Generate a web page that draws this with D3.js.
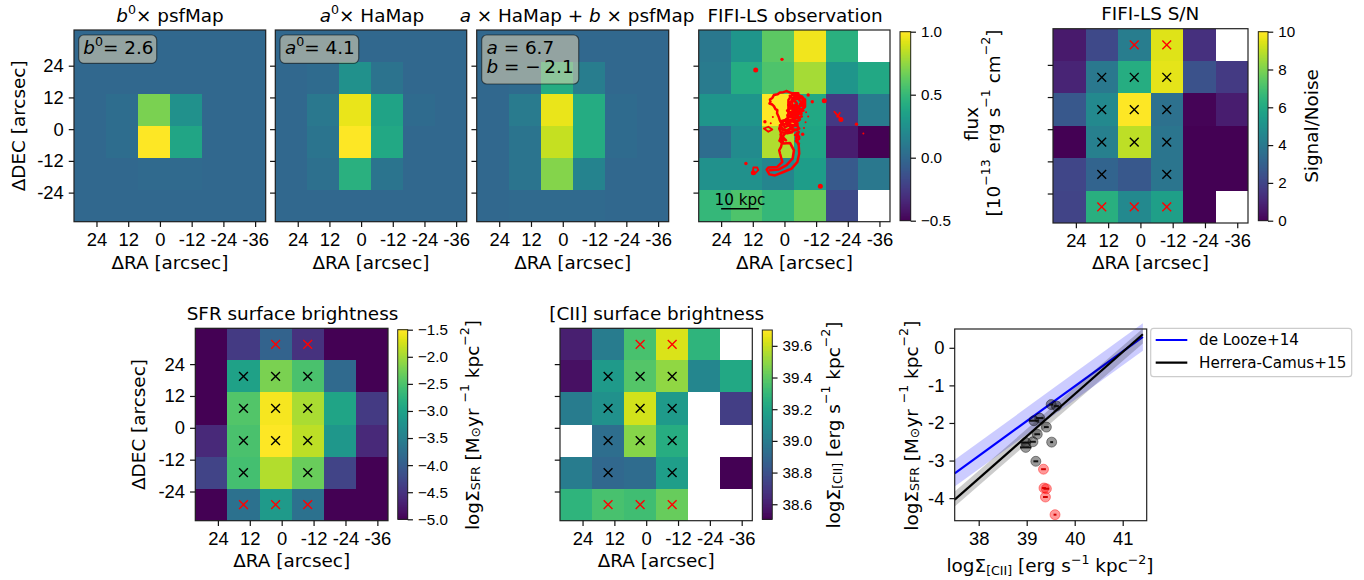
<!doctype html>
<html lang="en">
<head>
<meta charset="utf-8">
<title>FIFI-LS maps</title>
<script src="https://cdnjs.cloudflare.com/ajax/libs/d3/7.8.5/d3.min.js"></script>
<style>
  html, body { margin: 0; padding: 0; background: #fff; }
  svg { display: block; font-family: "DejaVu Sans", sans-serif; }
  .big { font-size: 18.4px; fill: #000; }
  .small { font-size: 15.2px; fill: #000; }
  .axis text { font-size: 18.4px; fill: #000; }
  .cbar text { font-size: 15.2px; fill: #000; }
  .axis line, .cbar line { stroke: #111; stroke-width: 1.2px; }
  .frame { fill: none; stroke: #222; stroke-width: 1.2px; }
</style>
</head>
<body>
<div id="viz"></div>
<script>
// DATA
var raTicks = [24, 12, 0, -12, -24, -36];
var decTicks = [24, 12, 0, -12, -24];
var raLimits = [32.5, -40];
var decLimits = [37.5, -35];

// flux maps, rows from north to south, null = no data
var psfMap = [
  [0, 0, 0, 0, 0, 0],
  [0, 0, 0, 0, 0, 0],
  [0, 0.03, 0.7, 0.25, 0, 0],
  [0, 0.03, 1.0, 0.38, 0, 0],
  [0, 0, 0.01, 0.01, 0, 0],
  [0, 0, 0, 0, 0, 0]
];
var haMap = [
  [0, 0, 0, 0, 0, 0],
  [0, 0.02, 0.25, 0.07, 0, 0],
  [0, 0.1, 0.95, 0.37, 0.02, 0],
  [0, 0.08, 1.0, 0.4, 0, 0],
  [0, 0.05, 0.45, 0.08, 0, 0],
  [0, 0, 0, 0, 0, 0]
];
var modelMap = [
  [0, 0, 0, 0, 0, 0],
  [0, 0.02, 0.42, 0.13, 0, 0],
  [0, 0.12, 0.95, 0.42, 0.02, 0],
  [0, 0.08, 0.87, 0.42, 0.02, 0],
  [0, 0.08, 0.72, 0.17, 0, 0],
  [0, 0.01, 0.01, 0.01, 0, 0]
];
var fluxMap = [
  [0.1, 0.28, 0.62, 0.97, 0.45, null],
  [0.12, 0.42, 0.58, 0.8, 0.28, 0.4],
  [0.28, 0.28, 1.0, 0.4, -0.25, 0.12],
  [0.03, 0.22, 0.82, 0.38, -0.38, -0.5],
  [0.25, 0.25, 0.18, 0.33, -0.08, 0.1],
  [0.5, 0.58, 0.5, 0.65, -0.17, null]
];
var snMap = [
  [0.7, 2.2, 4.2, 9.5, 1.4, null],
  [1.0, 4.0, 6.2, 9.6, 2.5, 1.7],
  [2.7, 4.7, 10, 3.7, 0.1, 0.8],
  [0, 4.3, 9.0, 3.9, 0, 0],
  [2.1, 3.2, 2.7, 3.9, 0, 0],
  [2.0, 6.3, 4.7, 5.6, 0, null]
];
var sfrMap = [
  [-5, -4.4, -3.9, -4.5, -5, -5],
  [-5, -3.0, -2.2, -2.5, -3.8, -5],
  [-5, -2.45, -1.55, -1.95, -2.95, -4.4],
  [-4.6, -2.5, -1.5, -1.85, -3.15, -4.6],
  [-4.3, -2.55, -1.9, -2.3, -4.3, -5],
  [-5, -3.7, -3.1, -3.7, -5, -5]
];
var ciiMap = [
  [38.6, 39.0, 39.35, 39.63, 39.28, null],
  [38.55, 39.15, 39.38, 39.5, 39.05, 39.22],
  [39.0, 39.1, 39.62, 39.15, null, 38.72],
  [null, 38.93, 39.48, 39.25, null, null],
  [39.0, 38.9, 38.92, 39.17, null, 38.5],
  [39.28, 39.35, 39.33, 39.42, null, null]
];

// crosses: row, column, 1 = below the S/N cut
var crossRows = [0, 0, 1, 1, 1, 2, 2, 2, 3, 3, 3, 4, 4, 5, 5, 5];
var crossCols = [2, 3, 1, 2, 3, 1, 2, 3, 1, 2, 3, 1, 3, 1, 2, 3];
var crossFlag = [1, 1, 0, 0, 0, 0, 0, 0, 0, 0, 0, 0, 0, 1, 1, 1];

// Halpha contour over the observation, in arcsec
var contourPaths = [
  [[-0.8,14.4],[0.4,14],[1.7,13.9],[2.6,13.2],[4,12.9],[4.6,11.8],[5.5,11.2],[5.3,10.4],[5.7,9.7],[4.8,9.4],[4,8.7],[3.4,7.6],[2.7,7.2],[2.8,6],[2.2,4.7],[1.8,3.4],[1.1,2.15],[2,0.25],[1.1,-1.9],[1.7,-4.15],[1,-5.4],[1.3,-6.7],[2,-8],[1.7,-9.2],[1.2,-11],[0.8,-12.4],[2.7,-14.3],[6.1,-14.5],[6.75,-15.3],[5.7,-17.1],[3.6,-17.5],[0.4,-16.2],[-2.7,-14.9],[-4.9,-12.4],[-5.6,-9.2],[-5.4,-6.1],[-4.4,-3.5],[-5.4,-1]],
  [[5.5,-15.5],[2.3,-15.3],[-0.8,-13.6],[-3.1,-11.1],[-3.6,-8],[-2.1,-5.2],[0.4,-5.4]],
  [[-0.8,14.4],[-2.7,13.6],[-5.25,13.6]],
  [[-1.5,11],[-2.7,12.9],[-5.25,13.1],[-7.8,11.2],[-7.8,8.5],[-5.9,6.6],[-3.35,7.2],[-1.5,9.1],[-1.5,11]],
  [[-2.7,11],[-5.25,11.6],[-6.5,10],[-5.25,8.2],[-3.1,9.1],[-2.7,11]],
  [[-3.8,12.2],[-6.8,12],[-7,9.2],[-4.2,7.8]],
  [[-2,12.6],[-3.2,11.6],[-4.2,12.8],[-5.4,11.4],[-6.6,12.4],[-7.4,10.6],[-6,9.6],[-7.6,8.4],[-6.2,7.2],[-5,8.8],[-3.8,7.6],[-2.6,8.8],[-1.8,10]],
  [[-2.2,10.4],[-4,10.6],[-4.8,9.6],[-3.4,8.6]],
  [[-6.4,5.6],[-4.2,6],[-7.2,7],[-3,6.8],[-2,4.6],[-5.2,4.2],[-6.6,4.8]],
  [[-1.5,9.1],[-1.5,5.9],[-2.7,6.6],[-4.9,5.3],[-5.9,3.7],[-4,2.15],[-5.6,0.25],[-2.3,-1],[0.4,-0.1],[1.7,1.5],[-1.1,2.15],[-3.35,4.4],[-1.1,5.3],[-2.1,0.9],[-0.2,3.4],[-3.35,0.9],[-1.1,-0.4],[0.7,-2.9],[-0.6,-4.2],[1,-3.4]],
  [[-1.2,7],[-3,5],[-5,6.4],[-3.4,3],[-5,1.2],[-2,1.8],[-0.2,0.6],[0.8,2.6],[-1,4],[-2.4,2.8],[-4.2,4]],
  [[1.5,3],[-1,3.6],[-3.5,2.8],[-5.6,3.4]],
  [[1.7,1.2],[-0.5,2],[-2.5,1],[-5,2]],
  [[1.5,0],[-0.5,-0.6],[-2.5,0.2],[-4.8,-0.4]],
  [[0.9,-1.2],[-1,-1.6],[-3,-1.2]],
  [[0.9,-3],[1.9,-4.4],[0.5,-5],[1.5,-2]],
  [[-4.6,-2.2],[-5.6,-3.6],[-4.3,-4.5],[-5.5,-5.5]],
  [[-2.5,8],[-1,7],[-3,5.8],[-4.8,7.5],[-6.5,6]],
  [[-4.6,-1.6],[-5.6,-3],[-4,-2.2]]
];
var contourLoops = [
  [[-18.9,6.6],[-21.7,3.4]],
  [[-21,6.2],[-20,4.7]],
  [[11.8,-14.5],[10.3,-14.5],[9.9,-15.5],[11.2,-16.8],[12,-16.2],[11.8,-14.5]],
  [[7.8,0.25],[6.1,0.9],[4.6,-0.1],[6.1,-1],[7.8,0.25]]
];
var contourBigDots = [[10.9,22.35],[-15.1,10.75],[-21.4,3.65],[-13.6,-21.6],[11.8,-16.5]];
var contourMidDots = [[0.94,26.4],[-9,12.9],[14.6,-13],[-6.9,-1.9],[7.4,2.8],[-10.55,10.35],[-27.3,1.9]];
var contourTinyDots = [[-29.9,-1.6],[-8.2,6.4],[-9,4.8],[-8,2.6],[-7.4,0.4],[4.4,4.6],[5.2,2.2]];

// SFR vs [CII] per spaxel
var sigmaCii = [39.51, 39.62, 39.15, 39.27, 39.41, 39.22, 39.13, 39.52, 38.98, 38.98, 39.19];
var sigmaSfr = [-1.51, -1.55, -1.94, -1.87, -2.11, -2.30, -2.50, -2.51, -2.52, -2.65, -3.02];
var sigmaCiiErr = [0.04, 0.05, 0.1, 0.08, 0.05, 0.06, 0.06, 0.03, 0.1, 0.12, 0.05];
var lowCii = [39.35, 39.36, 39.41, 39.39, 39.59];
var lowSfr = [-3.23, -3.73, -3.75, -3.97, -4.44];
var lowCiiErr = [0.05, 0.04, 0.06, 0.05, 0.03];

// published relations
var relationX = [37.5, 41.42];
var loozeMid = [-3.34, 0.29];
var loozeLow = [-3.69, -0.08];
var loozeHigh = [-2.98, 0.65];
var herreraMid = [-4.04, 0.36];
var herreraLow = [-4.22, 0.115];
var herreraHigh = [-3.82, 0.51];

var fluxTicks = [-0.5, 0, 0.5, 1];
var snTicks = [0, 2, 4, 6, 8, 10];
var sfrTicks = [-5, -4.5, -4, -3.5, -3, -2.5, -2, -1.5];
var ciiTicks = [38.6, 38.8, 39, 39.2, 39.4, 39.6];

// DRAWING AREA
var svg = d3.select("#viz").append("svg")
  .attr("width", 1364)
  .attr("height", 580);

var minus = "\u2212";

// parts: plain strings, or {t, i: italic, sup, sub}
function richText(sel, parts, size) {
  var offset = 0;
  parts.forEach(function(p) {
    if (typeof p === "string") p = { t: p };
    var shift = p.sup ? -0.42 * size : p.sub ? 0.2 * size : 0;
    var span = sel.append("tspan")
      .attr("dy", shift - offset)
      .text(p.t);
    if (p.i) span.style("font-style", "italic");
    if (p.sup || p.sub) span.style("font-size", (size * 0.7) + "px");
    offset = shift;
  });
  return sel;
}

function label(x, y, parts, size, rotate, anchor) {
  var t = svg.append("text")
    .attr("class", size === 18 ? "big" : "small")
    .attr("text-anchor", anchor || "middle")
    .attr("transform", "translate(" + x + "," + y + ")" + (rotate ? " rotate(-90)" : ""));
  richText(t, parts, size);
  return t;
}

function noteBox(x0, y0, x1, y1) {
  svg.append("rect")
    .attr("x", x0).attr("y", y0)
    .attr("width", x1 - x0).attr("height", y1 - y0)
    .attr("rx", 5).attr("ry", 5)
    .attr("fill", "wheat").attr("fill-opacity", 0.5)
    .attr("stroke", "#000").attr("stroke-opacity", 0.5).attr("stroke-width", 1.2);
}

function heatPanel(o) {
  var x = d3.scaleLinear().domain(raLimits).range([o.x0, o.x1]);
  var y = d3.scaleLinear().domain(decLimits).range([o.y0, o.y1]);
  var color = d3.scaleSequential(d3.interpolateViridis).domain(o.domain);
  var cols = d3.scaleLinear().domain([0, 6]).range(raLimits);
  var rows = d3.scaleLinear().domain([0, 6]).range(decLimits);

  var cells = [];
  o.values.forEach(function(row, r) {
    row.forEach(function(v, c) {
      if (v !== null) cells.push({ r: r, c: c, v: v });
    });
  });

  var g = svg.append("g").attr("shape-rendering", "crispEdges");
  g.selectAll("rect")
    .data(cells)
    .enter()
    .append("rect")
    .attr("x", function(d) { return Math.round(x(cols(d.c))); })
    .attr("y", function(d) { return Math.round(y(rows(d.r))); })
    .attr("width", function(d) { return Math.round(x(cols(d.c + 1))) - Math.round(x(cols(d.c))); })
    .attr("height", function(d) { return Math.round(y(rows(d.r + 1))) - Math.round(y(rows(d.r))); })
    .attr("fill", function(d) { return color(d.v); });

  if (o.crosses) {
    var crossSize = 4.4;
    var crossData = crossRows.map(function(r, i) {
      return { x: x(cols(crossCols[i] + 0.5)), y: y(rows(r + 0.5)), red: crossFlag[i] };
    });
    svg.append("g").selectAll("path")
      .data(crossData)
      .enter()
      .append("path")
      .attr("d", function(d) {
        return "M" + (d.x - crossSize) + "," + (d.y - crossSize) + "L" + (d.x + crossSize) + "," + (d.y + crossSize)
          + "M" + (d.x - crossSize) + "," + (d.y + crossSize) + "L" + (d.x + crossSize) + "," + (d.y - crossSize);
      })
      .attr("fill", "none")
      .attr("stroke", function(d) { return d.red ? "#f00" : "#000"; })
      .attr("stroke-width", 1.4);
  }

  svg.append("rect").attr("class", "frame")
    .attr("x", o.x0).attr("y", o.y0)
    .attr("width", o.x1 - o.x0).attr("height", o.y1 - o.y0);

  var xAxis = d3.axisBottom(x).tickValues(raTicks).tickFormat(String)
    .tickSizeInner(5.25).tickSizeOuter(0).tickPadding(6);
  var xg = svg.append("g").attr("class", "axis")
    .attr("transform", "translate(0," + o.y1 + ")").call(xAxis);
  xg.select(".domain").remove();

  var yAxis = d3.axisLeft(y).tickValues(decTicks)
    .tickFormat(o.yLabels ? String : "")
    .tickSizeInner(5.25).tickSizeOuter(0).tickPadding(5);
  var yg = svg.append("g").attr("class", "axis")
    .attr("transform", "translate(" + o.x0 + ",0)").call(yAxis);
  yg.select(".domain").remove();

  label((o.x0 + o.x1) / 2, o.xLabelY, ["\u0394RA [arcsec]"], 18);
  if (o.yLabels) label(o.yLabelX, (o.y0 + o.y1) / 2, ["\u0394DEC [arcsec]"], 18, true);
  return { x: x, y: y };
}

function colorBar(o) {
  var s = d3.scaleLinear().domain(o.domain).range([o.y1, o.y0]);
  var color = d3.scaleSequential(d3.interpolateViridis).domain(o.domain);
  var steps = d3.range(256).map(function(i) {
    return o.domain[0] + (o.domain[1] - o.domain[0]) * i / 256;
  });
  var step = (o.domain[1] - o.domain[0]) / 256;
  svg.append("g").attr("shape-rendering", "crispEdges").selectAll("rect")
    .data(steps)
    .enter()
    .append("rect")
    .attr("x", o.x0)
    .attr("width", o.x1 - o.x0)
    .attr("y", function(d) { return Math.floor(s(d + step)); })
    .attr("height", 2)
    .attr("fill", function(d) { return color(d); });
  svg.append("rect").attr("class", "frame")
    .attr("x", o.x0).attr("y", o.y0)
    .attr("width", o.x1 - o.x0).attr("height", o.y1 - o.y0)
    .style("stroke-width", 1);
  var axis = d3.axisRight(s).tickValues(o.ticks).tickFormat(d3.format(o.format))
    .tickSizeInner(5.25).tickSizeOuter(0).tickPadding(5);
  var g = svg.append("g").attr("class", "cbar")
    .attr("transform", "translate(" + o.x1 + ",0)").call(axis);
  g.select(".domain").remove();
}

// TOP ROW
var topY0 = 30, topY1 = 221.7;

heatPanel({ x0: 74, x1: 265.7, y0: topY0, y1: topY1, values: psfMap, domain: [-0.5, 1], yLabels: true, yLabelX: 25, xLabelY: 268.5 });
label(170, 21.5, [{ t: "b", i: 1 }, { t: "0", sup: 1 }, "\u00d7 psfMap"], 18);
noteBox(78.7, 35, 156.7, 63.3);
label(83.3, 53.5, [{ t: "b", i: 1 }, { t: "0", sup: 1 }, "= 2.6"], 18, false, "start");

heatPanel({ x0: 275.3, x1: 466.7, y0: topY0, y1: topY1, values: haMap, domain: [-0.5, 1], xLabelY: 268.5 });
label(372, 21.5, [{ t: "a", i: 1 }, { t: "0", sup: 1 }, "\u00d7 HaMap"], 18);
noteBox(280, 35, 358.7, 63.3);
label(285, 53.5, [{ t: "a", i: 1 }, { t: "0", sup: 1 }, "= 4.1"], 18, false, "start");

heatPanel({ x0: 476.7, x1: 668.7, y0: topY0, y1: topY1, values: modelMap, domain: [-0.5, 1], xLabelY: 268.5 });
label(577, 21.5, [{ t: "a", i: 1 }, " \u00d7 HaMap + ", { t: "b", i: 1 }, " \u00d7 psfMap"], 18);
noteBox(481.7, 35, 578.7, 84);
label(486.5, 54, [{ t: "a", i: 1 }, " = 6.7"], 18, false, "start");
label(486.5, 73, [{ t: "b", i: 1 }, " = " + minus + "\u20092.1"], 18, false, "start");

var obs = heatPanel({ x0: 698.7, x1: 890, y0: topY0, y1: topY1, values: fluxMap, domain: [-0.5, 1], xLabelY: 268.5 });
label(795, 21.5, ["FIFI-LS observation"], 18);
colorBar({ x0: 900, x1: 910.7, y0: 31.7, y1: 220.7, domain: [-0.5, 1], ticks: fluxTicks, format: ".1f" });

// contour on the observation
var contourLine = d3.line()
  .x(function(d) { return obs.x(d[0]); })
  .y(function(d) { return obs.y(d[1]); });
var contourG = svg.append("g")
  .attr("fill", "none").attr("stroke", "#f00")
  .attr("stroke-linecap", "round").attr("stroke-linejoin", "round");
contourG.selectAll("path.main").data(contourPaths).enter().append("path")
  .attr("class", "main").attr("stroke-width", 2.5).attr("d", contourLine);
contourG.selectAll("path.loop").data(contourLoops).enter().append("path")
  .attr("class", "loop").attr("stroke-width", 1.8).attr("d", contourLine);
[[contourBigDots, 4.6], [contourMidDots, 3], [contourTinyDots, 1.6]].forEach(function(set) {
  contourG.append("g").selectAll("circle").data(set[0]).enter().append("circle")
    .attr("cx", function(d) { return obs.x(d[0]); })
    .attr("cy", function(d) { return obs.y(d[1]); })
    .attr("r", set[1] / 2 + 0.2)
    .attr("fill", "#f00").attr("stroke", "none");
});

// scale bar, 14.3 arcsec = 10 kpc
svg.append("line")
  .attr("x1", obs.x(24)).attr("x2", obs.x(24 - 14.3))
  .attr("y1", obs.y(-30.1)).attr("y2", obs.y(-30.1))
  .attr("stroke", "#000").attr("stroke-width", 1.5);
label(740, 205, ["10 kpc"], 15);

label(970.7, 124, ["flux"], 18, true).attr("dominant-baseline", "central");
label(993, 123, ["[10", { t: minus + "13", sup: 1 }, " erg s", { t: minus + "1", sup: 1 }, " cm", { t: minus + "2", sup: 1 }, "]"], 18, true)
  .attr("dominant-baseline", "central");

heatPanel({ x0: 1053, x1: 1248, y0: 28.7, y1: 223, values: snMap, domain: [0, 10], crosses: true, xLabelY: 268.5 });
label(1150.3, 20, ["FIFI-LS S/N"], 18);
colorBar({ x0: 1258.3, x1: 1268, y0: 31.7, y1: 220.7, domain: [0, 10], ticks: snTicks, format: "d" });
label(1311, 126, ["Signal/Noise"], 18, true).attr("dominant-baseline", "central");

// BOTTOM ROW
var botY0 = 328.3, botY1 = 520.7;

heatPanel({ x0: 195.3, x1: 388, y0: botY0, y1: botY1, values: sfrMap, domain: [-5, -1.5], crosses: true, yLabels: true, yLabelX: 145, xLabelY: 566.5 });
label(292.5, 320, ["SFR surface brightness"], 18);
colorBar({ x0: 397.7, x1: 407.7, y0: 329.7, y1: 519.3, domain: [-5, -1.5], ticks: sfrTicks, format: ".1f" });
label(471.7, 425, ["log\u03a3", { t: "SFR", sub: 1 }, " [M", { t: "\u2299", sub: 1 }, "yr ", { t: minus + "1", sup: 1 }, " kpc", { t: minus + "2", sup: 1 }, "]"], 18, true)
  .attr("dominant-baseline", "central");

heatPanel({ x0: 560, x1: 752.3, y0: botY0, y1: botY1, values: ciiMap, domain: [38.5, 39.7], crosses: true, xLabelY: 566.5 });
label(656.7, 320, ["[CII] surface brightness"], 18);
colorBar({ x0: 762.3, x1: 772.3, y0: 330, y1: 519.3, domain: [38.505, 39.7], ticks: ciiTicks, format: ".1f" });
label(833, 425, ["log\u03a3", { t: "[CII]", sub: 1 }, " [erg s", { t: minus + "1", sup: 1 }, " kpc", { t: minus + "2", sup: 1 }, "]"], 18, true)
  .attr("dominant-baseline", "central");

// SCATTER
var sx0 = 954.7, sx1 = 1146.7, sy0 = 329, sy1 = 520.7;
var sx = d3.scaleLinear().domain([37.5, 41.5]).range([sx0, sx1]);
var sy = d3.scaleLinear().domain([-4.6, 0.5]).range([sy1, sy0]);

function relationBand(low, high, fill) {
  var area = d3.area()
    .x(function(d) { return sx(relationX[d]); })
    .y0(function(d) { return sy(low[d]); })
    .y1(function(d) { return sy(high[d]); });
  svg.append("path").attr("d", area([0, 1])).attr("fill", fill).attr("fill-opacity", 0.2);
}
function relationLine(mid, stroke) {
  var line = d3.line()
    .x(function(d) { return sx(relationX[d]); })
    .y(function(d) { return sy(mid[d]); });
  svg.append("path").attr("d", line([0, 1])).attr("fill", "none").attr("stroke", stroke).attr("stroke-width", 2.2);
}
relationBand(loozeLow, loozeHigh, "#00f");
relationLine(loozeMid, "#00f");
relationBand(herreraLow, herreraHigh, "#000");
relationLine(herreraMid, "#000");

function spaxels(xs, ys, errs, fill, dash) {
  var g = svg.append("g");
  xs.forEach(function(v, i) {
    g.append("circle")
      .attr("cx", sx(v)).attr("cy", sy(ys[i])).attr("r", 5)
      .attr("fill", fill).attr("fill-opacity", 0.4)
      .attr("stroke", fill).attr("stroke-opacity", 0.4);
    g.append("line")
      .attr("x1", sx(v - errs[i])).attr("x2", sx(v + errs[i]))
      .attr("y1", sy(ys[i])).attr("y2", sy(ys[i]))
      .attr("stroke", dash).attr("stroke-width", 2);
  });
}
spaxels(sigmaCii, sigmaSfr, sigmaCiiErr, "#000", "#111");
spaxels(lowCii, lowSfr, lowCiiErr, "#f00", "#d00000");

svg.append("rect").attr("class", "frame")
  .attr("x", sx0).attr("y", sy0).attr("width", sx1 - sx0).attr("height", sy1 - sy0);

var sxAxis = d3.axisBottom(sx).tickValues([38, 39, 40, 41]).tickFormat(String)
  .tickSizeInner(5.25).tickSizeOuter(0).tickPadding(6);
var sxg = svg.append("g").attr("class", "axis").attr("transform", "translate(0," + sy1 + ")").call(sxAxis);
sxg.select(".domain").remove();
var syAxis = d3.axisLeft(sy).tickValues([0, -1, -2, -3, -4]).tickFormat(String)
  .tickSizeInner(5.25).tickSizeOuter(0).tickPadding(5);
var syg = svg.append("g").attr("class", "axis").attr("transform", "translate(" + sx0 + ",0)").call(syAxis);
syg.select(".domain").remove();

label(1050, 571.5, ["log\u03a3", { t: "[CII]", sub: 1 }, " [erg s", { t: minus + "1", sup: 1 }, " kpc", { t: minus + "2", sup: 1 }, "]"], 18);
label(910.7, 425.7, ["log\u03a3", { t: "SFR", sub: 1 }, " [M", { t: "\u2299", sub: 1 }, "yr ", { t: minus + "1", sup: 1 }, " kpc", { t: minus + "2", sup: 1 }, "]"], 18, true)
  .attr("dominant-baseline", "central");

// LEGEND
svg.append("rect")
  .attr("x", 1150.7).attr("y", 328.3).attr("width", 201).attr("height", 48.4)
  .attr("rx", 3).attr("ry", 3)
  .attr("fill", "#fff").attr("stroke", "#ccc").attr("stroke-width", 1.2);
[["de Looze+14", "#00f", 340], ["Herrera-Camus+15", "#000", 362.7]].forEach(function(row) {
  svg.append("line")
    .attr("x1", 1155.7).attr("x2", 1187.3)
    .attr("y1", row[2]).attr("y2", row[2])
    .attr("stroke", row[1]).attr("stroke-width", 2.2);
  label(1199, row[2] + 5.2, [row[0]], 15, false, "start");
});
</script>
</body>
</html>
